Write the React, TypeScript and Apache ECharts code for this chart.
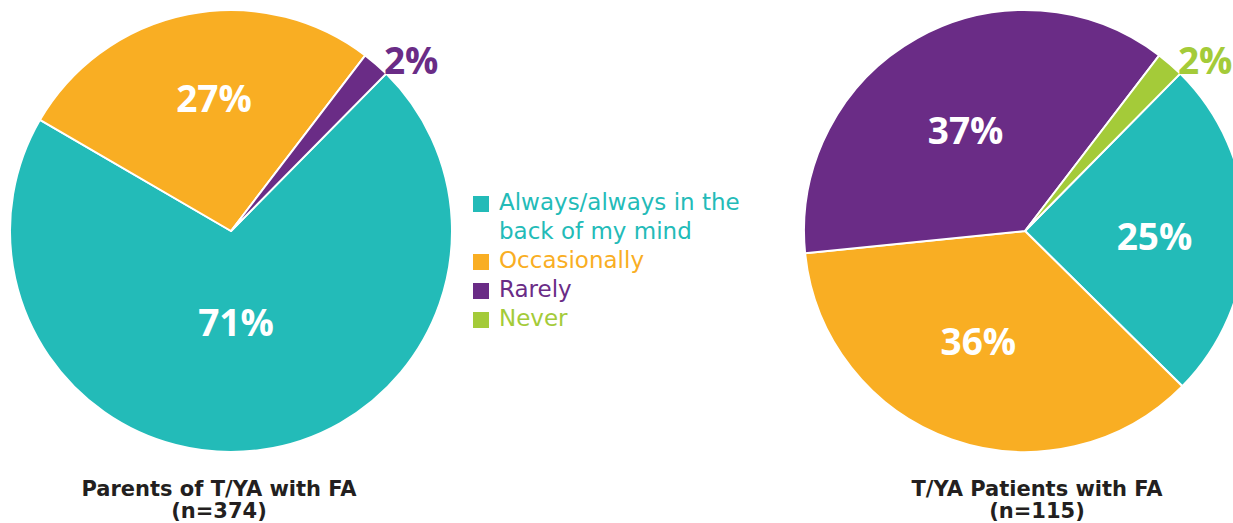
import React, { useEffect, useRef } from "react";
import * as echarts from "echarts";

const categories = ["Always/always in the back of my mind", "Occasionally", "Rarely", "Never"];
const legendLines = [["Always/always in the", "back of my mind"], ["Occasionally"], ["Rarely"], ["Never"]];
const colors = ["#23BBB8", "#F9AE23", "#6A2C86", "#A4CB39"];
const parentsValues = [71, 27, 2, 0];
const patientsValues = [25, 36, 37, 2];
const titles = ["Parents of T/YA with FA\n(n=374)", "T/YA Patients with FA\n(n=115)"];

const FONT = "'Open Sans', 'DejaVu Sans', sans-serif";
const WIDE = "'DejaVu Sans', sans-serif";

// label nudges (style only), per category index, per pie
const parentsOffsets: Record<number, number[]> = { 0: [-10, -22], 1: [5, -22] };
const patientsOffsets: Record<number, number[]> = { 0: [16, 5], 1: [-9, 2], 2: [-4, -2] };

function buildData(values: number[], offsets: Record<number, number[]>) {
  return values
    .map((v, i) => ({ v, i }))
    .filter((d) => d.v > 0)
    .map(({ v, i }) => {
      const small = v < 5;
      return {
        name: categories[i],
        value: v,
        itemStyle: { color: colors[i] },
        label: small
          ? {
              position: "outside",
              color: colors[i],
              fontSize: 37,
              fontWeight: "bold",
              fontFamily: FONT,
            }
          : { position: "inside", offset: offsets[i] || [0, 0] },
        labelLine: { show: false },
      };
    });
}

export default function App() {
  const ref = useRef<HTMLDivElement>(null);
  useEffect(() => {
    document.body.style.margin = "0";
    const chart = echarts.init(ref.current!, undefined, { renderer: "svg" });
    const pieBase = {
      type: "pie",
      radius: 221,
      startAngle: 45.4,
      clockwise: true,
      avoidLabelOverlap: false,
      itemStyle: { borderColor: "#ffffff", borderWidth: 2 },
      label: {
        show: true,
        formatter: "{c}%",
        color: "#ffffff",
        fontSize: 37,
        fontWeight: "bold",
        fontFamily: FONT,
        distanceToLabelLine: 4,
      },
      labelLine: { show: false, length: 6, length2: 0 },
      emphasis: { disabled: true },
    };
    const graphics: any[] = [];
    let y = 190;
    legendLines.forEach((lines, i) => {
      graphics.push({
        type: "rect",
        left: 473,
        top: y + 6,
        shape: { width: 16, height: 16 },
        style: { fill: colors[i] },
      });
      lines.forEach((line) => {
        graphics.push({
          type: "text",
          left: 499,
          top: y,
          style: {
            text: line,
            fill: colors[i],
            font: `23px ${WIDE}`,
          },
        });
        y += 29;
      });
    });
    chart.setOption({
      animation: false,
      title: titles.map((t, i) => ({
        text: t,
        left: i === 0 ? 219 : 1037,
        top: 478,
        padding: 0,
        textAlign: "center",
        textStyle: {
          color: "#231F20",
          fontSize: 21,
          fontWeight: "bold",
          fontFamily: WIDE,
          lineHeight: 22,
        },
      })),
      graphic: graphics,
      series: [
        { ...pieBase, name: "Parents", center: [231, 231], data: buildData(parentsValues, parentsOffsets) },
        { ...pieBase, name: "Patients", center: [1025, 231], data: buildData(patientsValues, patientsOffsets) },
      ],
    });
    return () => chart.dispose();
  }, []);
  return <div ref={ref} style={{ position: "absolute", left: 0, top: 0, width: 1233, height: 523 }} />;
}
